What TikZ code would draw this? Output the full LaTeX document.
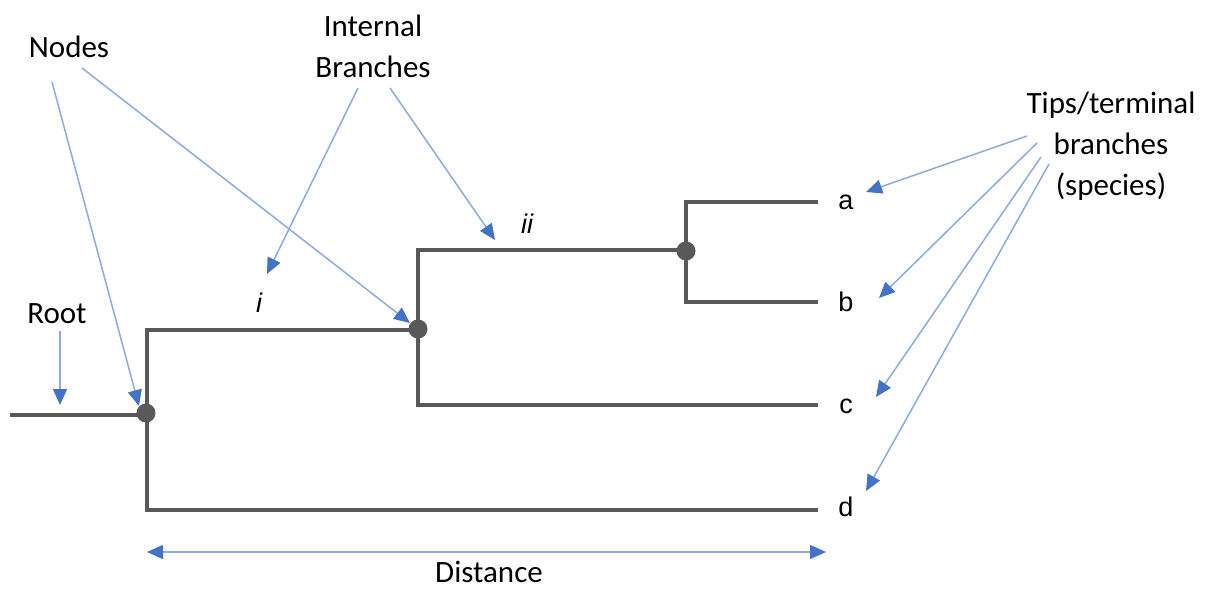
\documentclass[tikz,border=0pt]{standalone}
\usepackage{fontspec}
\setmainfont{Carlito}
\newfontfamily\arialfont{Liberation Sans}
\usetikzlibrary{arrows.meta}
\definecolor{treegray}{HTML}{595959}
\definecolor{blueline}{HTML}{8FAADC}
\definecolor{bluehead}{HTML}{4472C4}
\begin{document}
\begin{tikzpicture}[x=1pt,y=-1pt,
  branch/.style={draw=treegray, line width=4.5pt, line join=miter},
  junction/.style={circle, fill=treegray, inner sep=0pt, minimum size=19pt},
  lbl/.style={font=\fontsize{31}{41}\selectfont, align=center, inner sep=0pt},
  single/.style={font=\fontsize{31}{41}\selectfont, inner sep=0pt, anchor=base},
  tiplbl/.style={font=\arialfont\fontsize{27}{32}\selectfont, inner sep=0pt, anchor=base},
  brlbl/.style={font=\arialfont\itshape\fontsize{27}{32}\selectfont, inner sep=0pt, anchor=base},
  pointer/.style={draw=blueline, line width=1.5pt, -{Triangle[length=16pt,width=14pt,color=bluehead]}},
  span/.style={draw=blueline, line width=1.5pt, {Triangle[length=16pt,width=14pt,color=bluehead]}-{Triangle[length=16pt,width=14pt,color=bluehead]}}
]
\useasboundingbox (0,0) rectangle (1211,589);
% tree coordinates
\coordinate (rootstart) at (10,415);
\coordinate (j1) at (147,415);
\coordinate (j2) at (418,330);
\coordinate (j3) at (686,250);
\coordinate (ta) at (818,202);
\coordinate (tb) at (818,302);
\coordinate (tc) at (818,405);
\coordinate (td) at (818,510);
% branches
\draw[branch] (rootstart) -- (j1);
\draw[branch] (j2) -| (j1) |- (td);
\draw[branch] (j3) -| (j2) |- (tc);
\draw[branch] (ta) -| (j3) |- (tb);
% junction dots
\node[junction] (n1) at (146,413) {};
\node[junction] (n2) at (418,329) {};
\node[junction] (n3) at (686,251) {};
% tip labels
\node[tiplbl] (la) at (846,209) {a};
\node[tiplbl] (lb) at (846,311) {b};
\node[tiplbl] (lc) at (846,413) {c};
\node[tiplbl] (ld) at (846,516) {d};
\node[brlbl] (li) at (259,312) {i};
\node[brlbl] (lii) at (527,233) {ii};
% annotation labels
\node[single] (nodes) at (69,57) {Nodes};
\node[lbl] (internal) at (373,46) {Internal\\Branches};
\node[lbl] (tips) at (1111,146) {Tips/terminal\\branches\\(species)};
\node[single] (root) at (57,323) {Root};
\node[single] (distance) at (489,582) {Distance};
% pointer coordinates
\coordinate (ns1) at (52,82);   \coordinate (ne1) at (139,406);
\coordinate (ns2) at (82,68);   \coordinate (ne2) at (410,323);
\coordinate (is1) at (358,88);  \coordinate (ie1) at (267,274);
\coordinate (is2) at (390,88);  \coordinate (ie2) at (495,240);
\coordinate (rs) at (60,331);   \coordinate (re) at (60,405);
\coordinate (ts1) at (1027,136); \coordinate (te1) at (866,192);
\coordinate (ts2) at (1037,143); \coordinate (te2) at (879,298);
\coordinate (ts3) at (1041,157); \coordinate (te3) at (876,397);
\coordinate (ts4) at (1049,164); \coordinate (te4) at (866,491);
\coordinate (ds) at (147,552);  \coordinate (de) at (826,552);
% pointers
\draw[pointer] (ns1) -- (ne1);
\draw[pointer] (ns2) -- (ne2);
\draw[pointer] (is1) -- (ie1);
\draw[pointer] (is2) -- (ie2);
\draw[pointer] (rs) -- (re);
\draw[pointer] (ts1) -- (te1);
\draw[pointer] (ts2) -- (te2);
\draw[pointer] (ts3) -- (te3);
\draw[pointer] (ts4) -- (te4);
\draw[span] (ds) -- (de);
\end{tikzpicture}
\end{document}
